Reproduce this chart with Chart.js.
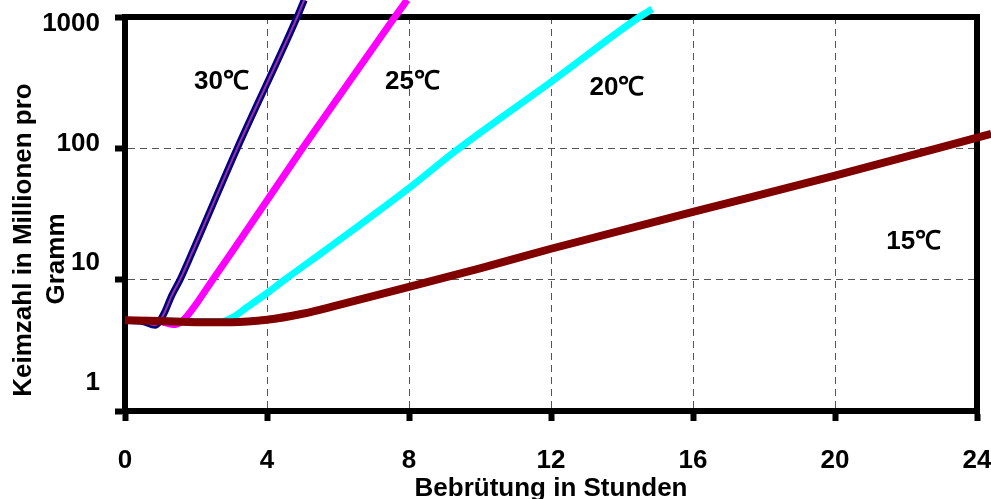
<!DOCTYPE html>
<html>
<head>
<meta charset="utf-8">
<script src="https://cdn.jsdelivr.net/npm/chart.js@4"></script>
<style>
  body { margin: 0; background: #fff; }
  #box { width: 991px; height: 499px; }
</style>
</head>
<body>
<div id="box"><canvas id="grafik"></canvas></div>
<script>
// Messwerte (Stunden / Keimzahl in Mio. pro Gramm)
var stunden30 = [0, 0.5, 0.85, 1.08, 1.32, 1.55, 1.92, 3.16, 4.85, 5.05];
var keime30   = [4.9, 4.8, 4.5, 5.4, 7.6, 10, 16.8, 100, 1000, 1350];

var stunden25 = [0, 1, 1.35, 1.6, 1.75, 2.05, 2.47, 3.05, 5.0, 7.6, 7.95];
var keime25   = [4.9, 4.8, 4.55, 4.8, 5.3, 6.8, 10, 16.8, 100, 1000, 1350];

var stunden20 = [0, 1, 2, 2.7, 3.0, 3.45, 4.0, 4.5, 5.65, 8.05, 9.3, 12, 14.49, 14.85];
var keime20   = [4.9, 4.85, 4.8, 4.8, 5.1, 6.2, 7.9, 10, 16.8, 51, 95, 320, 1000, 1150];

// letzter Punkt liegt knapp hinter 24 h (Linie läuft über den Rahmen)
var stunden15 = [0, 1, 2, 3, 4, 5, 6, 8, 10, 12, 16, 20, 24.4];
var keime15   = [4.9, 4.85, 4.75, 4.75, 4.95, 5.5, 6.4, 8.8, 12.2, 17.2, 32.8, 62, 129];

var xTicks = [0, 4, 8, 12, 16, 20, 24];
var yTicks = [1, 10, 100, 1000];

var beschriftung = ['30\u2103', '25\u2103', '20\u2103', '15\u2103'];
var beschriftungX = [2.72, 8.1, 13.86, 22.22];
var beschriftungY = [320, 320, 288, 19.4];

var schrift = 'Liberation Sans, Arial, sans-serif';
Chart.defaults.font.family = schrift;
Chart.defaults.font.size = 26;
Chart.defaults.font.weight = 'bold';
Chart.defaults.color = '#000';

function punkte(xs, ys) {
  return xs.map(function (x, i) { return { x: x, y: ys[i] }; });
}

var clipRand = { left: 5, top: 20, right: 20, bottom: 5 };

function linie(daten, farbe, breite) {
  return {
    data: daten,
    borderColor: farbe,
    borderWidth: breite,
    pointRadius: 0,
    cubicInterpolationMode: 'monotone',
    clip: clipRand
  };
}

// Rahmen oben/rechts + Texte
var rahmen = {
  id: 'rahmen',
  beforeDatasetsDraw: function (chart) {
    var a = chart.chartArea;
    var ctx = chart.ctx;
    ctx.save();
    ctx.strokeStyle = '#000';
    ctx.lineWidth = 6;
    ctx.strokeRect(a.left, a.top, a.right - a.left, a.bottom - a.top);
    ctx.restore();
  },
  afterDatasetsDraw: function (chart) {
    var ctx = chart.ctx;
    var xs = chart.scales.x, ys = chart.scales.y;
    ctx.save();
    ctx.fillStyle = '#000';
    ctx.font = 'bold 26px ' + schrift;
    ctx.textAlign = 'center';
    ctx.textBaseline = 'middle';
    for (var i = 0; i < beschriftung.length; i++) {
      ctx.fillText(beschriftung[i], xs.getPixelForValue(beschriftungX[i]), ys.getPixelForValue(beschriftungY[i]));
    }
    // y-Achsentitel (zweizeilig)
    ctx.translate(24, 240);
    ctx.rotate(-Math.PI / 2);
    ctx.fillText('Keimzahl in Millionen pro', 0, 0);
    ctx.rotate(Math.PI / 2);
    ctx.translate(33, 19);
    ctx.rotate(-Math.PI / 2);
    ctx.fillText('Gramm', 0, 0);
    ctx.restore();
  }
};

const ctx = document.getElementById('grafik');

const myChart = new Chart(ctx, {
  type: 'line',
  data: {
    datasets: [
      linie(punkte(stunden15, keime15), '#800000', 8),
      linie(punkte(stunden30, keime30), '#993399', 2),
      linie(punkte(stunden30, keime30), '#000080', 7),
      linie(punkte(stunden25, keime25), '#FF00FF', 7),
      linie(punkte(stunden20, keime20), '#00FFFF', 7)
    ]
  },
  options: {
    responsive: true,
    maintainAspectRatio: false,
    animation: false,
    layout: { padding: { top: 17, right: 14, left: 0, bottom: 0 } },
    plugins: {
      legend: { display: false },
      tooltip: { enabled: false }
    },
    scales: {
      x: {
        type: 'linear',
        min: 0,
        max: 24,
        afterBuildTicks: function (axis) {
          axis.ticks = xTicks.map(function (v) { return { value: v }; });
        },
        ticks: { padding: 24, maxRotation: 0 },
        grid: { color: '#555', lineWidth: 1, tickColor: '#000', tickWidth: 6, tickLength: 10 },
        border: { color: '#000', width: 6, dash: [7, 5] },
        title: {
          display: true,
          text: 'Bebrütung in Stunden',
          font: { size: 26, weight: 'bold', lineHeight: 0.75 },
          padding: 0
        },
        afterFit: function (s) {
          s.height = 88;
          s.paddingLeft = 0;
          s.paddingRight = 0;
        }
      },
      y: {
        type: 'logarithmic',
        min: 1,
        max: 1000,
        weight: 1,
        afterBuildTicks: function (axis) {
          axis.ticks = yTicks.map(function (v) { return { value: v }; });
        },
        ticks: { display: false },
        grid: { color: '#555', lineWidth: 1, tickColor: '#000', tickWidth: 6, tickLength: 10 },
        border: { color: '#000', width: 6, dash: [7, 5] },
        afterFit: function (s) {
          s.width = 14;
          s.paddingTop = 0;
          s.paddingBottom = 0;
        }
      },
      yBeschriftung: {
        type: 'logarithmic',
        position: 'left',
        bounds: 'data',
        min: 0.577,
        max: 1144,
        weight: 2,
        afterBuildTicks: function (axis) {
          axis.ticks = yTicks.map(function (v) { return { value: v }; });
        },
        ticks: {
          padding: 11,
          callback: function (v) { return String(v); }
        },
        grid: { display: false, drawTicks: false },
        border: { display: false },
        afterFit: function (s) {
          s.width = 111;
          s.paddingTop = 0;
          s.paddingBottom = 0;
        }
      }
    }
  },
  plugins: [rahmen]
});
</script>
</body>
</html>
